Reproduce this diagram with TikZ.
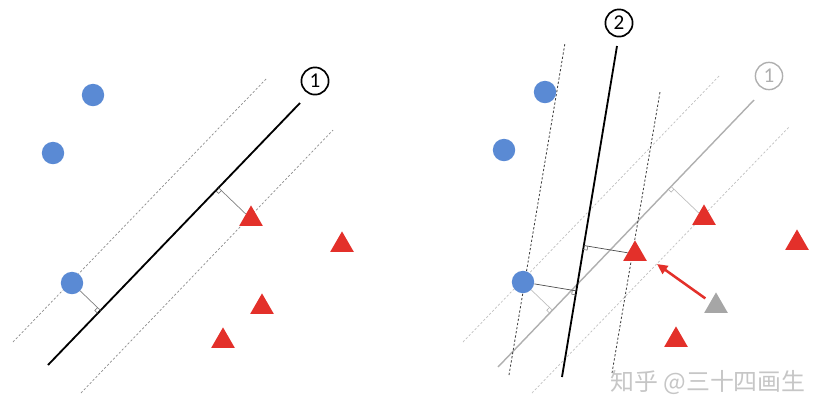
\documentclass[tikz,border=0pt]{standalone}
\usepackage{fontspec}
\setmainfont{Carlito}
\newfontfamily\cjkfont{Noto Sans CJK SC}
\usepackage{xcolor}
\usepackage{tikz}
\usetikzlibrary{positioning,arrows.meta,calc,shapes.geometric}
\definecolor{PtBlue}{HTML}{5A8AD4}
\definecolor{PtRed}{HTML}{E3302A}
\definecolor{PtGray}{HTML}{A6A6A6}
\definecolor{LineGray}{HTML}{AFAFAF}
\definecolor{MarkC}{HTML}{C6C6C6}
\newcommand{\rtmark}[4][black!60]{% foot, towards point, towards line end
  \coordinate (rtA) at ($(#2)!1mm!(#3)$);
  \coordinate (rtB) at ($(#2)!1mm!(#4)$);
  \draw[#1,line width=.4pt] (rtA) -- ($(rtA)+(rtB)-(#2)$) -- (rtB);}

\begin{document}
\begin{tikzpicture}[font=\small,x=0.025cm,y=-0.025cm,
  blueDot/.style={circle,fill=PtBlue,inner sep=0pt,minimum size=5.6mm},
  redTri/.style={regular polygon,regular polygon sides=3,fill=PtRed,inner sep=0pt,minimum size=6.8mm},
  grayTri/.style={redTri,fill=PtGray},
  hyper/.style={line width=1.3pt},
  margin/.style={line width=.5pt,dash pattern=on 1.6pt off 1.4pt},
  perp/.style={line width=.5pt},
  tag/.style={circle,draw,line width=1.2pt,inner sep=0pt,minimum size=6.8mm,font=\fontsize{15}{18}\selectfont}]

\useasboundingbox (0,0) rectangle (829,417);

% ================= left: one separating line =================
\coordinate (Ha) at (48,365);   \coordinate (Hb) at (300,103);
\coordinate (Ua) at (13,342);   \coordinate (Ub) at (267,78);
\coordinate (Da) at (81,393);   \coordinate (Db) at (333,130);
\draw[margin,black!45] (Ua) -- (Ub);
\draw[margin,black!45] (Da) -- (Db);
\draw[hyper] (Ha) -- (Hb);
\node[tag] (tagA) at (315,81) {1};

\node[blueDot] (b1) at (93,95) {};
\node[blueDot] (b2) at (53,153) {};
\node[blueDot] (b3) at (72,283) {};
\node[redTri] (r1) at (251,219) {};
\node[redTri] (r2) at (342,245) {};
\node[redTri] (r3) at (262,307) {};
\node[redTri] (r4) at (223,341) {};

\coordinate (fb3) at ($(Ha)!(b3)!(Hb)$);
\coordinate (fr1) at ($(Ha)!(r1)!(Hb)$);
\draw[perp,black!50] (b3) -- (fb3);
\draw[perp,black!50] (r1) -- (fr1);
\rtmark{fb3}{b3}{Ha}
\rtmark{fr1}{r1}{Ha}

% ================= right: a new point tilts the line =================
\coordinate (Ga) at (498,367);  \coordinate (Gb) at (754,100);
\coordinate (GUa) at (463,342); \coordinate (GUb) at (720,75);
\coordinate (GDa) at (532,393); \coordinate (GDb) at (789,127);
\coordinate (Ka) at (562,377);  \coordinate (Kb) at (617,46);
\coordinate (KLa) at (509,375); \coordinate (KLb) at (565,43);
\coordinate (KRa) at (612,373); \coordinate (KRb) at (660,92);
\draw[margin,LineGray!80] (GUa) -- (GUb);
\draw[margin,LineGray!80] (GDa) -- (GDb);
\draw[line width=1pt,LineGray] (Ga) -- (Gb);
\node[tag,draw=LineGray,text=LineGray,line width=1pt] (tagB) at (769,76) {1};
\draw[margin,black!75,line width=.6pt] (KLa) -- (KLb);
\draw[margin,black!75,line width=.6pt] (KRa) -- (KRb);
\draw[hyper] (Ka) -- (Kb);
\node[tag] (tagC) at (619,23) {2};

\node[blueDot] (c1) at (545,92) {};
\node[blueDot] (c2) at (504,150) {};
\node[blueDot] (c3) at (523,282) {};
\node[redTri] (s1) at (704,218) {};
\node[redTri] (s2) at (797,243) {};
\node[redTri] (s3) at (635,254) {};
\node[redTri] (s4) at (676,340) {};
\node[grayTri] (gt) at (716,306) {};

\coordinate (gc3) at ($(Ga)!(c3)!(Gb)$);
\coordinate (gs1) at ($(Ga)!(s1)!(Gb)$);
\coordinate (kc3) at ($(Ka)!(c3)!(Kb)$);
\coordinate (ks3) at ($(Ka)!(s3)!(Kb)$);
\draw[perp,LineGray!80] (c3) -- (gc3);
\draw[perp,LineGray!80] (s1) -- (gs1);
\draw[perp,black!70] (c3) -- (kc3);
\draw[perp,black!70] (s3) -- (ks3);
\rtmark[LineGray]{gc3}{c3}{Ga}
\rtmark[LineGray]{gs1}{s1}{Ga}
\rtmark{kc3}{c3}{Ka}
\rtmark{ks3}{s3}{Ka}

\coordinate (arrHead) at (657,264);
\draw[PtRed,line width=1.8pt,-{Triangle[length=2.6mm,width=2.4mm]},shorten <=1.5mm] (gt) -- (arrHead);

\node[text=MarkC,font=\cjkfont\fontsize{17}{20}\selectfont] (mark) at (708,383) {知乎 @三十四画生};
\end{tikzpicture}
\end{document}
